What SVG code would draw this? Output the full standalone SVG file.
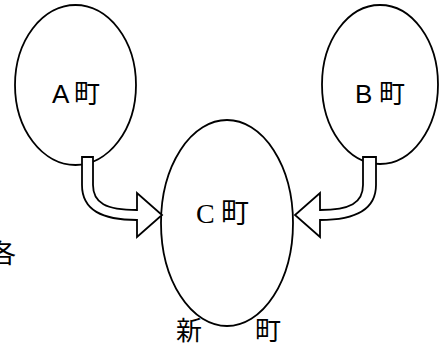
<svg xmlns="http://www.w3.org/2000/svg" width="439" height="345" viewBox="0 0 439 345">
<style>
.node{fill:#fff;stroke:#000;stroke-width:1.8}
.arrow{fill:#fff;stroke:#000;stroke-width:1.8;stroke-linejoin:miter}
.sans{font-family:"Liberation Sans","Noto Sans CJK JP",sans-serif;font-size:26px;fill:#000}
.serif{font-family:"Liberation Serif","Noto Sans CJK JP",serif;font-size:28px;fill:#000}
</style>
<rect width="439" height="345" fill="#fff"/>
<g id="nodeA">
<ellipse class="node" cx="75.5" cy="85" rx="60.5" ry="80"/>
<text class="sans" x="52 74" y="103">A町</text>
</g>
<g id="nodeB">
<ellipse class="node" cx="380" cy="84.5" rx="58" ry="79.5"/>
<text class="sans" x="355 379" y="103">B町</text>
</g>
<g id="nodeC">
<ellipse class="node" cx="227" cy="223" rx="66" ry="103"/>
<text class="serif" x="196 221" y="223">C町</text>
</g>
<g id="connectors">
<path class="arrow" d="M82 157H93V185C93 203 106 210 137 210V193L162 215L137 237V220C102 220 82 210 82 185Z"/>
<path class="arrow" d="M376 157H363V185C363 203 350 210 320 210V193L295 215L320 237V220C355 220 376 210 376 185Z"/>
</g>
<g id="labels">
<text class="sans" x="-10" y="263">各</text>
<text class="sans" x="176 255" y="340">新町</text>
</g>
</svg>
